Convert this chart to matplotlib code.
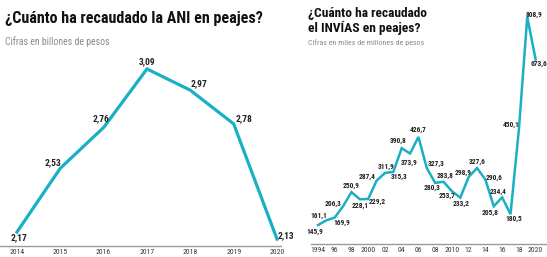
import matplotlib
matplotlib.use("Agg")
from matplotlib import pyplot as plt

plt.rcParams['font.family'] = ['Roboto Condensed', 'Liberation Sans Narrow', 'Liberation Sans', 'DejaVu Sans']
plt.rcParams['font.stretch'] = 'condensed'

# datos ANI (billones de pesos)
ani_years = [2014, 2015, 2016, 2017, 2018, 2019, 2020]
ani_values = [2.17, 2.53, 2.76, 3.09, 2.97, 2.78, 2.13]
ani_labels = ['2,17', '2,53', '2,76', '3,09', '2,97', '2,78', '2,13']

# datos INVIAS (miles de millones de pesos)
inv_years = list(range(1994, 2021))
inv_values = [145.9, 161.1, 169.9, 206.3, 250.9, 228.1, 229.2, 287.4, 311.9,
              315.3, 390.8, 373.9, 426.7, 327.3, 280.3, 283.8, 253.7, 233.2,
              298.9, 327.6, 290.6, 205.8, 234.4, 180.5, 450.1, 808.9, 673.6]
inv_ticks = [1994, 1996, 1998, 2000, 2002, 2004, 2006, 2008, 2010, 2012,
             2014, 2016, 2018, 2020]
inv_ticklabels = ['1994', '96', '98', '2000', '02', '04', '06', '08', '2010',
                  '12', '14', '16', '18', '2020']

# desplazamiento de etiquetas en pixeles
ani_off = [(2, -6), (-7, 5), (-3, 9), (0, 7), (9, 7), (10, 5), (9, 3)]
inv_off = [(-3, -7), (-8, 5), (7, -5), (-10, 2), (0, 6), (0, -6), (9, -3),
           (-9, 4), (1, 6), (6, -5), (-4, 7), (-1, -9), (0, 7), (9, 4),
           (-3, -5), (2, 6), (-5, -5), (1, -6), (-6, 4), (0, 6), (9, 2),
           (-4, -6), (-4, 6), (3, -5), (-8, 5), (7, 2), (3, -4)]

W, H = 547, 257
TEAL = '#19b0c4'
fig = plt.figure(figsize=(W / 100, H / 100), dpi=100)
renderer = fig.canvas.get_renderer()


def px_axes(x0, x1, ytop, ybot):
    return fig.add_axes([x0 / W, 1 - ybot / H, (x1 - x0) / W, (ybot - ytop) / H])


def fit_text(x, y, s, width, size, **kw):
    # escala la fuente para que el texto ocupe el ancho del original
    t = fig.text(x / W, 1 - y / H, s, fontsize=size, ha='left', va='center', **kw)
    w = t.get_window_extent(renderer).width
    t.set_fontsize(size * width / w)
    return t


def style(ax):
    for s in ['top', 'right', 'left']:
        ax.spines[s].set_visible(False)
    ax.spines['bottom'].set_color('#9a9a9a')
    ax.spines['bottom'].set_linewidth(1.0)
    ax.set_yticks([])
    ax.tick_params(axis='x', length=0, pad=2, labelsize=5.6, colors='#3a3a3a')
    ax.patch.set_visible(False)


# --- ANI ---
ax1 = px_axes(0, 281, 50, 246)
ax1.plot(ani_years, ani_values, color=TEAL, lw=2.3, solid_joinstyle='miter', clip_on=False)
ax1.set_xlim(2013.608, 2020.092)
ax1.set_ylim(2.091, 3.197)
ax1.set_xticks(ani_years)
style(ax1)
for x, y, t, o in zip(ani_years, ani_values, ani_labels, ani_off):
    ax1.annotate(t, (x, y), xytext=o, textcoords='offset pixels', ha='center',
                 va='center', fontsize=6.8, fontweight='bold', color='#222222',
                 annotation_clip=False)

fit_text(5, 19, '¿Cuánto ha recaudado la ANI en peajes?', 257, 13,
         fontweight='bold', color='#111111')
fit_text(5, 42, 'Cifras en billones de pesos', 105, 7, color='#8a8a8a')

# --- INVIAS ---
ax2 = px_axes(311, 547, 5, 244)
ax2.plot(inv_years, inv_values, color=TEAL, lw=1.8, solid_joinstyle='miter', clip_on=False)
ax2.set_xlim(1993.164, 2021.36)
ax2.set_ylim(85.6, 847.0)
ax2.set_xticks(inv_ticks, inv_ticklabels)
style(ax2)
for x, y, o in zip(inv_years, inv_values, inv_off):
    ax2.annotate(f'{y:.1f}'.replace('.', ','), (x, y), xytext=o, textcoords='offset pixels',
                 ha='center', va='center', fontsize=5.3, fontweight='bold',
                 color='#222222', annotation_clip=False)

fit_text(308, 13, '¿Cuánto ha recaudado', 119, 10, fontweight='bold', color='#111111')
fit_text(308, 28, 'el INVÍAS en peajes?', 112, 10, fontweight='bold', color='#111111')
fit_text(308, 43, 'Cifras en miles de millones de pesos', 117, 6, color='#8a8a8a')

fig.savefig('out.png', dpi=100, facecolor='white')
